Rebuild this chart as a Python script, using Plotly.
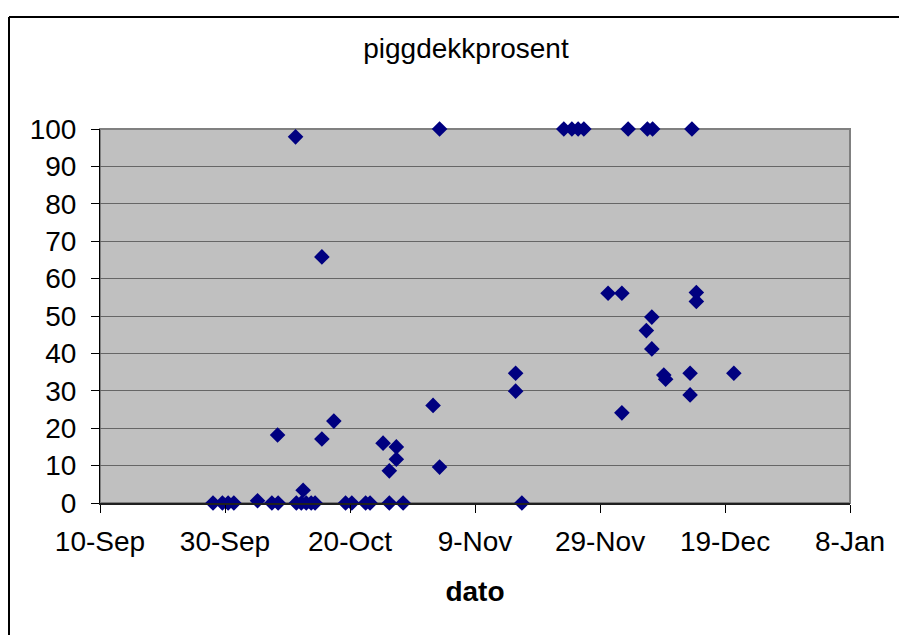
import plotly.graph_objects as go

# Data (date, piggdekk percentage)
dates = [
    "2004-09-28 02:00", "2004-09-29 14:00", "2004-09-30 12:00", "2004-10-01 10:00",
    "2004-10-05 05:00", "2004-10-07 12:00", "2004-10-08 12:00", "2004-10-08 10:00",
    "2004-10-11 07:00", "2004-10-11 10:00", "2004-10-12 05:00", "2004-10-12 12:00",
    "2004-10-13 00:00", "2004-10-13 19:00", "2004-10-14 10:00", "2004-10-15 12:00",
    "2004-10-15 12:00", "2004-10-17 10:00", "2004-10-19 07:00", "2004-10-20 07:00",
    "2004-10-22 12:00", "2004-10-23 05:00", "2004-10-25 07:00", "2004-10-26 07:00",
    "2004-10-26 07:00", "2004-10-27 10:00", "2004-10-27 10:00", "2004-10-28 12:00",
    "2004-11-02 07:00", "2004-11-03 08:00", "2004-11-03 08:00", "2004-11-15 12:00",
    "2004-11-15 12:00", "2004-11-16 12:00", "2004-11-23 05:00", "2004-11-24 12:00",
    "2004-11-25 12:00", "2004-11-26 10:00", "2004-11-30 07:00", "2004-12-02 12:00",
    "2004-12-02 12:00", "2004-12-03 12:00", "2004-12-06 10:00", "2004-12-06 14:00",
    "2004-12-07 07:00", "2004-12-07 07:00", "2004-12-07 10:00", "2004-12-09 05:00",
    "2004-12-09 12:00", "2004-12-13 10:00", "2004-12-13 10:00", "2004-12-13 17:00",
    "2004-12-14 10:00", "2004-12-14 10:00", "2004-12-20 10:00",
]
piggdekkprosent = [
    0, 0, 0, 0,
    0.6, 0, 0, 18.2,
    97.9, 0, 0, 3.4,
    0, 0, 0, 65.8,
    17.1, 21.9, 0, 0,
    0, 0, 16.0, 8.6,
    0, 15.0, 11.7, 0,
    26.1, 100, 9.6, 34.7,
    29.9, 0, 100, 100,
    100, 100, 56.1, 56.1,
    24.1, 100, 46.1, 100,
    49.7, 41.2, 100, 34.2,
    33.1, 34.7, 28.9, 100,
    56.3, 53.9, 34.7,
]

x_tickvals = ["2004-09-10", "2004-09-30", "2004-10-20", "2004-11-09",
              "2004-11-29", "2004-12-19", "2005-01-08"]
x_ticktext = ["10-Sep", "30-Sep", "20-Oct", "9-Nov", "29-Nov", "19-Dec", "8-Jan"]
y_tickvals = [0, 10, 20, 30, 40, 50, 60, 70, 80, 90, 100]

FONT = "Liberation Sans, Arial, sans-serif"
FS = 28

# The page body has an 8px margin, so the figure is sized to fit the window.
OFF = 8
PAGE_W, PAGE_H = 907, 635
W, H = PAGE_W - OFF, PAGE_H - OFF
PLOT_L, PLOT_R, PLOT_T, PLOT_B = 100, 850, 129, 503  # page pixels
L, T = PLOT_L - OFF, PLOT_T - OFF
R, B = W - (PLOT_R - OFF), H - (PLOT_B - OFF)
pw, ph = W - L - R, H - T - B

def px_x(page_px):
    return (page_px - PLOT_L) / pw

def px_y(page_py):
    return (PLOT_B - page_py) / ph

fig = go.Figure()
fig.add_trace(go.Scatter(
    x=dates, y=piggdekkprosent, mode="markers",
    marker=dict(symbol="diamond", size=12, color="#000080", line=dict(width=0)),
    cliponaxis=False, showlegend=False,
))

fig.update_layout(
    width=W, height=H,
    margin=dict(l=L, r=R, t=T, b=B, pad=0),
    paper_bgcolor="white",
    plot_bgcolor="#C0C0C0",
    font=dict(family=FONT, size=FS, color="black"),
    title=dict(text="piggdekkprosent", x=(466 - OFF) / W, xref="container", xanchor="center",
               y=1 - (48 - OFF) / H, yref="container", yanchor="middle",
               font=dict(family=FONT, size=FS, color="black")),
    xaxis=dict(
        type="date",
        range=["2004-09-10", "2005-01-08"],
        tickmode="array", tickvals=x_tickvals, ticktext=x_ticktext,
        ticks="outside", ticklen=8, tickwidth=1, tickcolor="black",
        showgrid=False, zeroline=False,
        showline=True, linecolor="#202020", linewidth=2,
        tickfont=dict(family=FONT, size=FS, color="black"),
        ticklabelstandoff=4,
        title=dict(text="<b>dato</b>", font=dict(family=FONT, size=FS, color="black"),
                   standoff=26),
    ),
    yaxis=dict(
        range=[0, 100],
        tickmode="array", tickvals=y_tickvals,
        ticks="outside", ticklen=8, tickwidth=1, tickcolor="black",
        showgrid=True, gridcolor="#666666", gridwidth=1,
        zeroline=False,
        showline=True, linecolor="black", linewidth=1,
        tickfont=dict(family=FONT, size=FS, color="black"),
        ticklabelstandoff=9,
    ),
    shapes=[
        dict(type="rect", xref="paper", yref="paper", x0=0, x1=1, y0=0, y1=1,
             line=dict(color="#808080", width=2), fillcolor="rgba(0,0,0,0)",
             layer="between"),
        dict(type="line", xref="paper", yref="paper",
             x0=px_x(OFF + 1), x1=px_x(OFF + 1),
             y0=px_y(17), y1=px_y(PAGE_H + 10),
             line=dict(color="black", width=2)),
        dict(type="line", xref="paper", yref="paper",
             x0=px_x(OFF + 1), x1=px_x(PAGE_W + 10),
             y0=px_y(17), y1=px_y(17),
             line=dict(color="black", width=2)),
    ],
)

fig.write_html("out.html")
